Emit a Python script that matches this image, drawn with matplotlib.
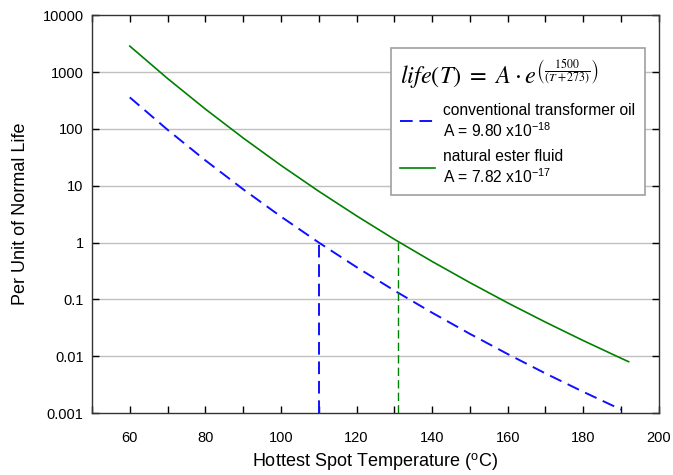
import numpy as np
import matplotlib.pyplot as plt
from matplotlib.ticker import FixedLocator, NullLocator

plt.rcParams['font.family'] = ['Liberation Sans', 'DejaVu Sans']
plt.rcParams['mathtext.fontset'] = 'stix'

# values
temp_oil = [60, 70, 80, 90, 100, 110, 120, 130, 140, 150, 160, 170, 180, 190]
life_oil = [358, 96.3, 27.9, 8.65, 2.86, 1.0, 0.369, 0.143, 0.0582, 0.0247,
            0.0109, 0.00497, 0.00236, 0.00115]

temp_ester = [60, 70, 80, 90, 100, 110, 120, 130, 140, 150, 160, 170, 180, 190, 192]
life_ester = [2860, 769, 223, 69.1, 22.8, 7.98, 2.95, 1.14, 0.464, 0.197,
              0.0867, 0.0397, 0.0188, 0.00919, 0.0080]

# temperatures where each curve reaches unit life
unit_T_oil = 110
unit_T_ester = 131
unit_life_oil = 1.0
unit_life_ester = 1.04

y_ticks = [0.001, 0.01, 0.1, 1, 10, 100, 1000, 10000]
y_labels = ['0.001', '0.01', '0.1', '1', '10', '100', '1000', '10000']
x_ticks = [60, 80, 100, 120, 140, 160, 180, 200]

blue = '#1010ff'
green = '#008000'

fig = plt.figure(figsize=(6.73, 4.75), dpi=100)
ax = fig.add_axes([0.1367, 0.1305, 0.8423, 0.8375])

for y in y_ticks[1:-1]:
    ax.axhline(y, color='#c0c0c0', lw=1.0, zorder=0)

ax.plot(temp_oil, life_oil, color=blue, lw=1.4, dashes=(6.5, 3.5),
        label='conventional transformer oil\nA = 9.80 x10$^{\\mathregular{-18}}$')
ax.plot(temp_ester, life_ester, color=green, lw=1.2,
        label='natural ester fluid\nA = 7.82 x10$^{\\mathregular{-17}}$')

ax.vlines(unit_T_oil, 0.001, unit_life_oil, color=blue, lw=1.4, linestyles=(0, (6.5, 3.5)))
ax.vlines(unit_T_ester, 0.001, unit_life_ester, color=green, lw=1.0, linestyles=(0, (6, 3)))

ax.set_yscale('log')
ax.set_xlim(50, 200)
ax.set_ylim(0.001, 10000)
ax.yaxis.set_major_locator(FixedLocator(y_ticks))
ax.yaxis.set_minor_locator(NullLocator())
ax.set_yticklabels(y_labels)
ax.set_xticks(x_ticks)
ax.set_xticks(np.arange(50, 201, 10), minor=True)

ax.tick_params(which='both', direction='in', top=True, right=True, labelsize=10.5)
ax.tick_params(which='both', length=5, width=1)
ax.tick_params(axis='x', pad=13)
ax.tick_params(axis='y', pad=6)
for s in ax.spines.values():
    s.set_linewidth(1.0)
    s.set_color('#333333')

ax.set_xlabel('Hottest Spot Temperature ($^{\\mathregular{o}}$C)', fontsize=13, labelpad=5)
ax.set_ylabel('Per Unit of Normal Life', fontsize=13, labelpad=10)

formula = r'$\mathit{life}(T)\ =\ A\cdot e^{\left(\frac{1500}{(T+273)}\right)}$'
leg = ax.legend(title=formula, title_fontsize=17.5, fontsize=11.25, loc='upper right',
                bbox_to_anchor=(0.975, 0.917), borderaxespad=0, fancybox=False,
                framealpha=1, edgecolor='#a0a0a0', handlelength=2.25,
                handletextpad=0.5, borderpad=0.6, labelspacing=0.7,
                alignment='left')
leg.get_frame().set_linewidth(1.2)

fig.savefig('out.png', dpi=100)
